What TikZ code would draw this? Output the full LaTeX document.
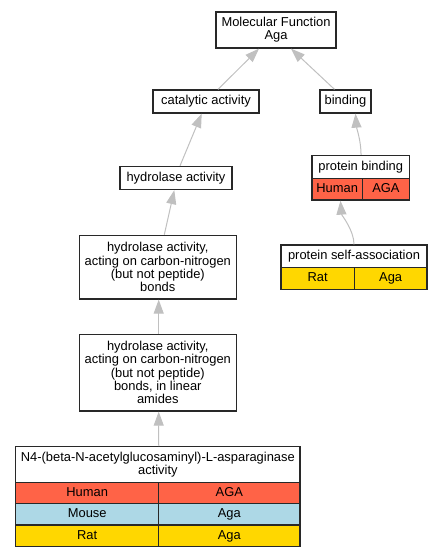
\documentclass[tikz,border=0pt]{standalone}
\usepackage{fontspec}
\setmainfont{Liberation Sans}
\usetikzlibrary{arrows.meta}
\definecolor{edgegray}{RGB}{192,192,192}
\definecolor{humanc}{RGB}{255,99,71}
\definecolor{mousec}{RGB}{173,216,230}
\definecolor{ratc}{RGB}{255,215,0}
\definecolor{bordc}{RGB}{40,40,40}
\tikzset{
  box/.style={draw=bordc, line width=1.3pt, fill=white, align=center, inner sep=0pt,
    font=\fontsize{12.9}{13.3}\selectfont},
  cell/.style={box, text height=9.4pt, text depth=2.7pt},
  edge/.style={draw=edgegray, line width=1pt, -{Triangle[length=14pt,width=10pt,fill=edgegray]}},
}
\begin{document}
\begin{tikzpicture}[x=1pt,y=-1pt]
\useasboundingbox (0,0) rectangle (441,557);
% nodes
\node[box, minimum width=120, minimum height=36] (mf) at (276,30) {Molecular Function\\Aga};
\node[cell, minimum width=106, minimum height=23] (cat) at (206,101.5) {catalytic activity};
\node[cell, minimum width=51, minimum height=23] (bind) at (345.5,101.5) {binding};
\node[cell, minimum width=112, minimum height=23] (hyd) at (176,178) {hydrolase activity};
% protein binding table
\node[cell, minimum width=97.5, minimum height=23] (pb) at (360.75,167) {protein binding};
\node[cell, fill=humanc, minimum width=50.3, minimum height=21.5] (pbh) at (337.15,189.25) {Human};
\node[cell, fill=humanc, minimum width=47.2, minimum height=21.5] (pbg) at (385.9,189.25) {AGA};
% protein self-association table
\node[cell, minimum width=146, minimum height=22.7] (psa) at (354,256.35) {protein self-association};
\node[cell, fill=ratc, minimum width=73.3, minimum height=21.6] (psar) at (317.65,278.5) {Rat};
\node[cell, fill=ratc, minimum width=72.7, minimum height=21.6] (psag) at (390.65,278.5) {Aga};
% hydrolase bonds
\node[box, minimum width=157, minimum height=63.7] (bonds) at (157.8,267.15) {hydrolase activity,\\acting on carbon-nitrogen\\(but not peptide)\\bonds};
\node[box, minimum width=157, minimum height=76.7] (lin) at (157.8,372.65) {hydrolase activity,\\acting on carbon-nitrogen\\(but not peptide)\\bonds, in linear\\amides};
% N4 table
\node[box, minimum width=284.3, minimum height=36] (nf) at (157.85,464.7) {N4-(beta-N-acetylglucosaminyl)-L-asparaginase\\activity};
\node[cell, fill=humanc, minimum width=143, minimum height=21] (nfh1) at (87.2,493.2) {Human};
\node[cell, fill=humanc, minimum width=141.3, minimum height=21] (nfh2) at (229.35,493.2) {AGA};
\node[cell, fill=mousec, minimum width=143, minimum height=21.3] (nfm1) at (87.2,514.35) {Mouse};
\node[cell, fill=mousec, minimum width=141.3, minimum height=21.3] (nfm2) at (229.35,514.35) {Aga};
\node[cell, fill=ratc, minimum width=143, minimum height=21.7] (nfr1) at (87.2,535.85) {Rat};
\node[cell, fill=ratc, minimum width=141.3, minimum height=21.7] (nfr2) at (229.35,535.85) {Aga};
% edges
\draw[edge] ([xshift=12]cat.north) -- ([xshift=-17]mf.south);
\draw[edge] ([xshift=-11]bind.north) -- ([xshift=15]mf.south);
\draw[edge] ([xshift=4]hyd.north) -- ([xshift=-4.3]cat.south);
\draw[edge] ([xshift=6.5]bonds.north) -- ([xshift=-1.7]hyd.south);
\draw[edge] ([xshift=0.9]lin.north) -- ([xshift=0.9]bonds.south);
\draw[edge] ([xshift=0.9]nf.north) -- ([xshift=0.9]lin.south);
\draw[edge] ([xshift=0.3]pb.north) .. controls ([xshift=0.3,yshift=14]pb.north) and ([xshift=11,yshift=-14]bind.south) .. ([xshift=10]bind.south);
\draw[edge] (psa.north) .. controls ([yshift=14]psa.north) and ([xshift=-21.5,yshift=-14]pbh.south east) .. ([xshift=-22.5]pbh.south east);
\end{tikzpicture}
\end{document}
